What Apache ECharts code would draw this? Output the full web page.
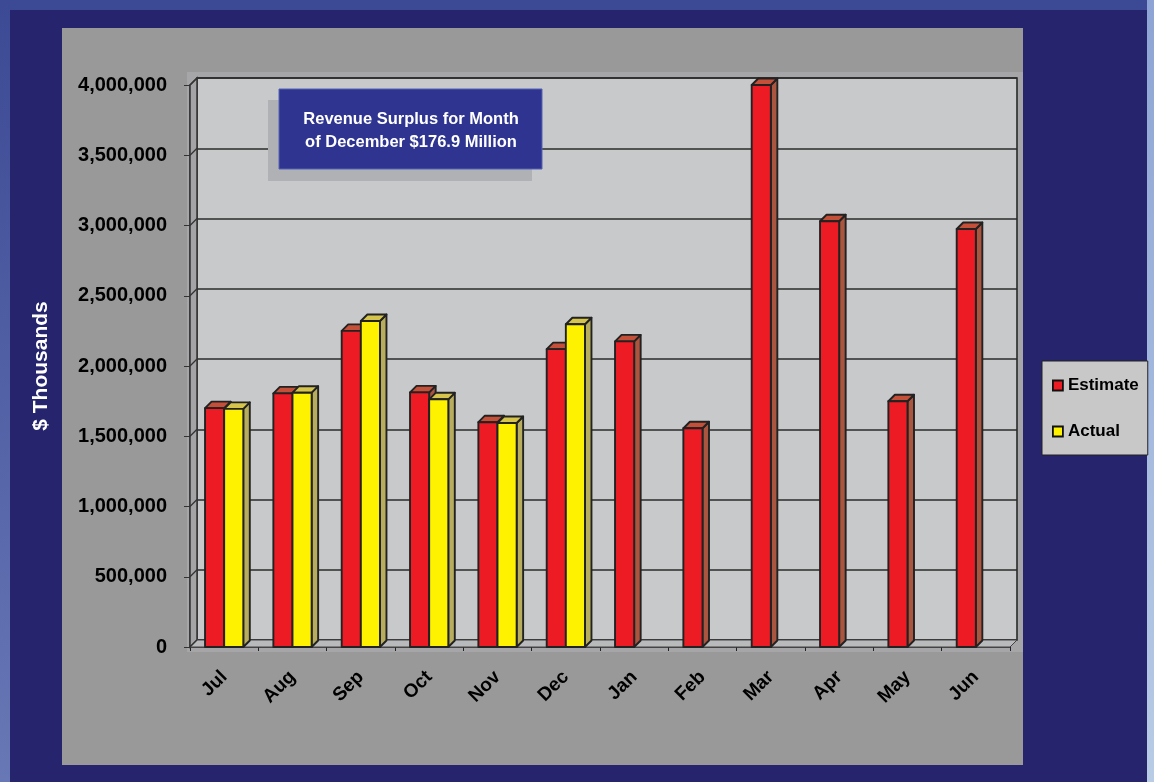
<!DOCTYPE html>
<html><head><meta charset="utf-8">
<script src="https://cdn.jsdelivr.net/npm/echarts@6/dist/echarts.min.js"></script>
<style>
html,body{margin:0;padding:0;background:#25246d;overflow:hidden;}
.bg{position:absolute;}
#c{position:absolute;left:0;top:0;width:1154px;height:782px;}
</style>
</head><body>
<div class="bg" style="left:0;top:0;width:1154px;height:10px;background:#3c4994;"></div>
<div class="bg" style="left:0;top:0;width:10px;height:782px;background:linear-gradient(#3c4994,#6878b6);"></div>
<div class="bg" style="left:1147px;top:0;width:7px;height:782px;background:linear-gradient(#8ea4d4,#b8cce6);"></div>
<div class="bg" style="left:62px;top:28px;width:961px;height:737px;background:#999999;"></div>
<div class="bg" style="left:187px;top:72px;width:836px;height:580px;background:#a6a6a8;"></div>
<div id="c"></div>
<script>
// ---- data ----
const categories = ['Jul','Aug','Sep','Oct','Nov','Dec','Jan','Feb','Mar','Apr','May','Jun'];
const estimate = [1700000, 1805000, 2250000, 1812000, 1600000, 2120000, 2175000, 1557000, 4000000, 3030000, 1749000, 2975000];
const actual   = [1695000, 1810000, 2320000, 1763000, 1594000, 2297000, null, null, null, null, null, null];
const yTickValues = [0, 500000, 1000000, 1500000, 2000000, 2500000, 3000000, 3500000, 4000000];
const seriesNames = ['Estimate', 'Actual'];
const noteLines = ['Revenue Surplus for Month', 'of December $176.9 Million'];

// ---- layout ----
const FL = 190, FT = 85, FW = 820, FH = 562, D = 7, BD = 6.5, BAR_RATIO = 0.28;
const FONT = 'Liberation Sans, Arial, sans-serif';
const faces = [
  {front:'#ed1c24', top:'#c4503a', side:'#a9553f'},
  {front:'#fff200', top:'#d6c54c', side:'#b8ad5c'}
];

function makeRender(idx){
  const c = faces[idx];
  return function(params, api){
    const ci = api.value(0), v = api.value(1);
    const base = api.coord([ci, 0]);
    const top = api.coord([ci, v]);
    const band = api.size([1, 0])[0];
    const bw = band * BAR_RATIO;
    const x0 = base[0] - bw + idx * bw;
    const x1 = x0 + bw;
    const yb = base[1], yt = top[1];
    const st = {stroke:'#222', lineWidth:1.9, lineJoin:'round'};
    return {type:'group', children:[
      {type:'polygon', shape:{points:[[x1,yt],[x1+BD,yt-BD],[x1+BD,yb-BD],[x1,yb]]}, style:Object.assign({fill:c.side}, st)},
      {type:'polygon', shape:{points:[[x0,yt],[x0+BD,yt-BD],[x1+BD,yt-BD],[x1,yt]]}, style:Object.assign({fill:c.top}, st)},
      {type:'rect', shape:{x:x0, y:yt, width:bw, height:yb-yt}, style:Object.assign({fill:c.front}, st)}
    ]};
  };
}
function toData(arr){
  const out = [];
  arr.forEach((v,i)=>{ if(v!==null) out.push([i, v]); });
  return out;
}

const chart = echarts.init(document.getElementById('c'), null, {renderer:'canvas'});
const yMax = yTickValues[yTickValues.length-1];
const yInt = yTickValues[1] - yTickValues[0];

chart.setOption({
  backgroundColor:'transparent',
  animation:false,
  grid:[
    {left:FL, top:FT, width:FW, height:FH, show:false},
    {left:FL+D, top:FT-D, width:FW, height:FH, show:true, backgroundColor:'#c8c9cb', borderColor:'#2a2a2a', borderWidth:1.6}
  ],
  xAxis:[
    {type:'category', gridIndex:0, data:categories,
     axisLine:{show:true, lineStyle:{color:'#444', width:1}},
     axisTick:{show:true, length:4, lineStyle:{color:'#222'}},
     axisLabel:{rotate:45, margin:27, color:'#000', fontWeight:'bold', fontSize:19, fontFamily:FONT}},
    {type:'category', gridIndex:1, data:categories, axisLine:{show:false}, axisTick:{show:false}, axisLabel:{show:false}}
  ],
  yAxis:[
    {type:'value', gridIndex:0, min:0, max:yMax, interval:yInt,
     name:'$ Thousands', nameLocation:'middle', nameRotate:90, nameGap:138,
     nameTextStyle:{color:'#fff', fontWeight:'bold', fontSize:21, fontFamily:FONT},
     axisLine:{show:true, lineStyle:{color:'#333', width:1.5}},
     axisTick:{show:true, length:6, lineStyle:{color:'#333'}},
     splitLine:{show:false},
     axisLabel:{margin:23, color:'#000', fontWeight:'bold', fontSize:20, fontFamily:FONT,
       formatter:v=>v.toLocaleString('en-US')}},
    {type:'value', gridIndex:1, min:0, max:yMax, interval:yInt,
     axisLine:{show:false}, axisTick:{show:false}, axisLabel:{show:false},
     splitLine:{show:true, lineStyle:{color:'#2a2a2a', width:1.5}}}
  ],
  legend:{
    data:seriesNames, orient:'vertical', left:1042, top:361,
    backgroundColor:'#c8c8c8', borderColor:'#222', borderWidth:1,
    padding:[16, 9, 15, 10], itemWidth:10, itemHeight:10, itemGap:29, icon:'rect',
    itemStyle:{borderColor:'#111', borderWidth:1.8},
    textStyle:{color:'#000', fontWeight:'bold', fontSize:17, fontFamily:FONT}
  },
  series:[
    {name:seriesNames[0], type:'custom', xAxisIndex:0, yAxisIndex:0, renderItem:makeRender(0), data:toData(estimate),
     itemStyle:{color:faces[0].front}, z:3},
    {name:seriesNames[1], type:'custom', xAxisIndex:0, yAxisIndex:0, renderItem:makeRender(1), data:toData(actual),
     itemStyle:{color:faces[1].front}, z:3}
  ]
});

// decorative side wall, floor and tick connectors computed from the axis scale
const p0 = chart.convertToPixel({xAxisIndex:0, yAxisIndex:0}, [0, 0]);
const pTop = chart.convertToPixel({yAxisIndex:0}, yMax);
const yBase = p0[1];
const xl = FL, xr = FL + FW;
const gfx = [
  {type:'polygon', z:1, shape:{points:[[xl,pTop],[xl+D,pTop-D],[xl+D,yBase-D],[xl,yBase]]},
   style:{fill:'#a4a4a6', stroke:'#333', lineWidth:1.5}},
  {type:'polygon', z:1, shape:{points:[[xl,yBase],[xl+D,yBase-D],[xr+D,yBase-D],[xr,yBase]]},
   style:{fill:'#b9babc', stroke:'#444', lineWidth:1}}
];
yTickValues.forEach(v=>{
  const y = chart.convertToPixel({yAxisIndex:0}, v);
  gfx.push({type:'line', z:1, shape:{x1:xl, y1:y, x2:xl+D, y2:y-D}, style:{stroke:'#333', lineWidth:1.3}});
});
// annotation box
gfx.push({type:'rect', z:10, shape:{x:268, y:100, width:264, height:81}, style:{fill:'#b0b1b5'}});
gfx.push({type:'rect', z:11, shape:{x:279, y:89, width:263, height:80}, style:{fill:'#2e3490', stroke:'#5562b4', lineWidth:1}});
noteLines.forEach((t,i)=>{
  gfx.push({type:'text', z:12, style:{text:t, x:411, y:119 + i*23, align:'center', verticalAlign:'middle',
    fill:'#fff', font:'bold 16.5px ' + FONT}});
});
chart.setOption({graphic:gfx});
</script>
</body></html>
